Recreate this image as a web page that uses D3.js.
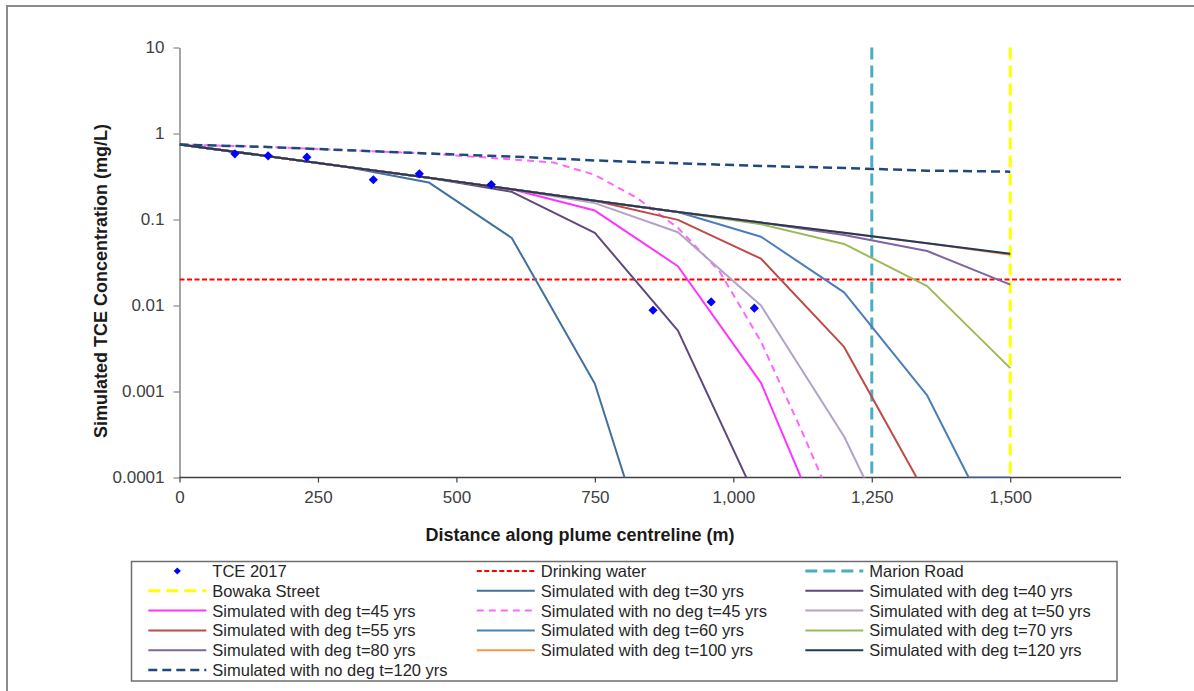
<!DOCTYPE html>
<html>
<head>
<meta charset="utf-8">
<script src="https://cdn.jsdelivr.net/npm/d3@7"></script>
<style>
  html, body { margin: 0; padding: 0; background: #ffffff; }
  svg text { font-family: Arial, "Liberation Sans", sans-serif; }
</style>
</head>
<body>
<svg id="chart" width="1194" height="691"></svg>
<script>
// ---- Data (distance in m, concentration in mg/L) ----
const distances = [0, 150, 300, 450, 600, 750, 900, 1050, 1200, 1350, 1500];

const tceDistance = [100, 160, 230, 350, 433, 563, 855, 960, 1038];
const tceConc     = [0.58, 0.55, 0.53, 0.29, 0.34, 0.255, 0.0088, 0.011, 0.0093];

const drinkingWaterX = [0, 1700];
const drinkingWaterY = [0.02, 0.02];
const marionRoadX = [1250, 1250];
const marionRoadY = [10, 0.0001];
const bowakaStreetX = [1500, 1500];
const bowakaStreetY = [10, 0.0001];

const degT30  = [0.745, 0.555, 0.41, 0.27, 0.061, 0.00123, 0.0000011];
const degT40  = [0.745, 0.555, 0.41, 0.305, 0.21, 0.07, 0.0051, 0.000043];
const degT45  = [0.745, 0.555, 0.41, 0.305, 0.225, 0.127, 0.0286, 0.00126, 0.0000065];
const degT50  = [0.745, 0.555, 0.41, 0.305, 0.225, 0.155, 0.071, 0.01, 0.0003, 0.000003];
const degT55  = [0.745, 0.555, 0.41, 0.305, 0.225, 0.165, 0.099, 0.035, 0.0033, 0.00006];
const degT60Distance = [0, 150, 300, 450, 600, 750, 900, 1050, 1200, 1350, 1425, 1500];
const degT60  = [0.745, 0.555, 0.41, 0.305, 0.225, 0.165, 0.122, 0.063, 0.0142, 0.0009, 0.0001, 0.0001];
const degT70  = [0.745, 0.555, 0.41, 0.305, 0.225, 0.165, 0.122, 0.088, 0.052, 0.0168, 0.00187];
const degT80  = [0.745, 0.555, 0.41, 0.305, 0.225, 0.165, 0.122, 0.092, 0.066, 0.043, 0.0175];
const degT100 = [0.745, 0.555, 0.41, 0.305, 0.225, 0.165, 0.122, 0.092, 0.07, 0.053, 0.039];
const degT120 = [0.745, 0.555, 0.41, 0.305, 0.225, 0.165, 0.122, 0.092, 0.07, 0.053, 0.04];

const noDegT45Distance = [0, 150, 300, 450, 600, 675, 750, 825, 900, 975, 1050, 1125, 1200];
const noDegT45 = [0.745, 0.70, 0.64, 0.585, 0.50, 0.46, 0.33, 0.18, 0.08, 0.025, 0.0038, 0.00033, 0.000025];
const noDegT120 = [0.745, 0.70, 0.64, 0.585, 0.54, 0.486, 0.45, 0.42, 0.397, 0.37, 0.36];

const xTickValues = [0, 250, 500, 750, 1000, 1250, 1500];
const xTickLabels = ["0", "250", "500", "750", "1,000", "1,250", "1,500"];
const yTickValues = [0.0001, 0.001, 0.01, 0.1, 1, 10];
const yTickLabels = ["0.0001", "0.001", "0.01", "0.1", "1", "10"];

// ---- Layout ----
const svg = d3.select("#chart");
const plot = { left: 179.5, right: 1121, top: 47.5, bottom: 477.5 };

const x = d3.scaleLinear().domain([0, 1700]).range([plot.left, plot.right]);
const y = d3.scaleLog().domain([0.0001, 10]).range([plot.bottom, plot.top]);

// outer chart frame
svg.append("rect")
  .attr("x", 7).attr("y", 6).attr("width", 1200).attr("height", 700)
  .attr("fill", "#ffffff").attr("stroke", "#8c8c8c").attr("stroke-width", 2);

svg.append("clipPath").attr("id", "plotClip")
  .append("rect")
  .attr("x", plot.left).attr("y", plot.top - 2)
  .attr("width", plot.right - plot.left).attr("height", plot.bottom - plot.top + 2);

// ---- Axes ----
const yAxis = d3.axisLeft(y)
  .tickValues(yTickValues)
  .tickFormat((d, i) => yTickLabels[i])
  .tickSizeOuter(0).tickSizeInner(6).tickPadding(9);
const gy = svg.append("g").attr("transform", `translate(${plot.left},0)`).call(yAxis);
gy.select(".domain").attr("stroke", "#868686").attr("stroke-width", 1.5);
gy.selectAll(".tick line").attr("stroke", "#868686").attr("stroke-width", 1.2);
gy.selectAll(".tick text").attr("fill", "#404040").style("font-size", "17px");

const xAxis = d3.axisBottom(x)
  .tickValues(xTickValues)
  .tickFormat((d, i) => xTickLabels[i])
  .tickSizeOuter(0).tickSizeInner(5).tickPadding(8);
const gx = svg.append("g").attr("transform", `translate(0,${plot.bottom})`).call(xAxis);
gx.select(".domain").attr("stroke", "#404040").attr("stroke-width", 1.3)
  .attr("d", `M${plot.left},0H${plot.right}`);
gx.selectAll(".tick line").attr("stroke", "#404040").attr("stroke-width", 1.2);
gx.selectAll(".tick text").attr("fill", "#404040").style("font-size", "17px");

// axis titles
svg.append("text")
  .attr("x", 580).attr("y", 541)
  .attr("text-anchor", "middle")
  .style("font-size", "18px").style("font-weight", "bold").attr("fill", "#1a1a1a")
  .text("Distance along plume centreline (m)");

svg.append("text")
  .attr("transform", "translate(107,281) rotate(-90)")
  .attr("text-anchor", "middle")
  .style("font-size", "18px").style("font-weight", "bold").attr("fill", "#1a1a1a")
  .text("Simulated TCE Concentration (mg/L)");

// ---- Series ----
const line = d3.line().x(d => x(d[0])).y(d => y(d[1]));
const pairs = (xs, ys) => ys.map((v, i) => [xs[i], v]);

const series = [
  { name: "Drinking water", xs: drinkingWaterX, ys: drinkingWaterY, color: "#FF0000", width: 2, dash: "5,2.5" },
  { name: "Marion Road", xs: marionRoadX, ys: marionRoadY, color: "#4BACC6", width: 3, dash: "12,6" },
  { name: "Bowaka Street", xs: bowakaStreetX, ys: bowakaStreetY, color: "#FFFF00", width: 3, dash: "12,6" },
  { name: "Simulated with deg t=30 yrs", xs: distances, ys: degT30, color: "#41719C", width: 2 },
  { name: "Simulated with deg t=40 yrs", xs: distances, ys: degT40, color: "#5F497A", width: 2 },
  { name: "Simulated with deg t=45 yrs", xs: distances, ys: degT45, color: "#FF33FF", width: 2 },
  { name: "Simulated with no deg t=45 yrs", xs: noDegT45Distance, ys: noDegT45, color: "#FF66FF", width: 2, dash: "7,5" },
  { name: "Simulated with deg at t=50 yrs", xs: distances, ys: degT50, color: "#B3A2C7", width: 2 },
  { name: "Simulated with deg t=55 yrs", xs: distances, ys: degT55, color: "#BE4B48", width: 2 },
  { name: "Simulated with deg t=60 yrs", xs: degT60Distance, ys: degT60, color: "#4A7EBB", width: 2 },
  { name: "Simulated with deg t=70 yrs", xs: distances, ys: degT70, color: "#9BBB59", width: 2 },
  { name: "Simulated with deg t=80 yrs", xs: distances, ys: degT80, color: "#8064A2", width: 2 },
  { name: "Simulated with deg t=100 yrs", xs: distances, ys: degT100, color: "#F79646", width: 2 },
  { name: "Simulated with deg t=120 yrs", xs: distances, ys: degT120, color: "#23395D", width: 2 },
  { name: "Simulated with no deg t=120 yrs", xs: distances, ys: noDegT120, color: "#1F497D", width: 2.5, dash: "9,5" }
];

const lines = svg.append("g").attr("clip-path", "url(#plotClip)");
series.forEach(s => {
  lines.append("path")
    .datum(pairs(s.xs, s.ys))
    .attr("d", line)
    .attr("fill", "none")
    .attr("stroke", s.color)
    .attr("stroke-width", s.width)
    .attr("stroke-dasharray", s.dash || null)
    .attr("stroke-linejoin", "round");
});

// TCE 2017 observations
const diamond = r => `M0,${-r}L${r},0L0,${r}L${-r},0Z`;
svg.append("g").selectAll("path")
  .data(pairs(tceDistance, tceConc))
  .join("path")
  .attr("transform", d => `translate(${x(d[0])},${y(d[1])})`)
  .attr("d", diamond(4.6))
  .attr("fill", "#0000FF");

// ---- Legend ----
const legendItems = [
  { name: "TCE 2017", marker: true },
  series[0], series[1],
  series[2], series[3], series[4],
  series[5], series[6], series[7],
  series[8], series[9], series[10],
  series[11], series[12], series[13],
  series[14]
];

const legend = svg.append("g");
legend.append("rect")
  .attr("x", 131.5).attr("y", 561.5).attr("width", 985.5).attr("height", 119.5)
  .attr("fill", "#ffffff").attr("stroke", "#6e6e6e").attr("stroke-width", 1.5);

const colX = [148.3, 476.8, 805.3];
const rowY0 = 571, rowStep = 19.8, symLen = 58;

legendItems.forEach((item, i) => {
  const cx = colX[i % 3];
  const cy = rowY0 + Math.floor(i / 3) * rowStep;
  const g = legend.append("g");
  if (item.marker) {
    g.append("path")
      .attr("transform", `translate(${cx + symLen / 2},${cy})`)
      .attr("d", diamond(3.6))
      .attr("fill", "#0000FF");
  } else {
    g.append("line")
      .attr("x1", cx).attr("x2", cx + symLen)
      .attr("y1", cy).attr("y2", cy)
      .attr("stroke", item.color)
      .attr("stroke-width", item.width)
      .attr("stroke-dasharray", item.dash || null);
  }
  g.append("text")
    .attr("x", cx + symLen + 6)
    .attr("y", cy)
    .attr("dy", "0.36em")
    .attr("fill", "#262626")
    .style("font-size", "16.5px")
    .text(item.name);
});
</script>
</body>
</html>
